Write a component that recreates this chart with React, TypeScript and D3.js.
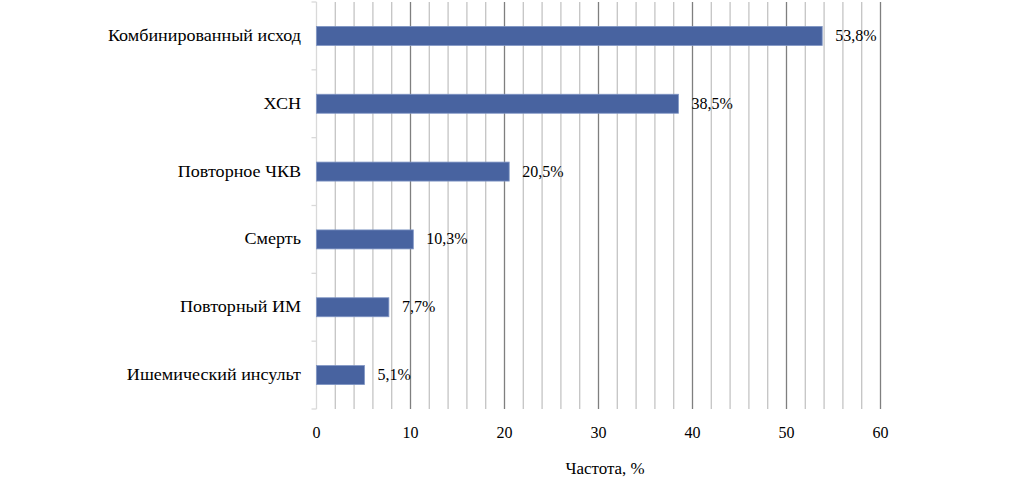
import React from "react";
import * as d3 from "d3";

const categories = [
  "Комбинированный исход",
  "ХСН",
  "Повторное ЧКВ",
  "Смерть",
  "Повторный ИМ",
  "Ишемический инсульт",
];
const values = [53.8, 38.5, 20.5, 10.3, 7.7, 5.1];
const valueLabels = ["53,8%", "38,5%", "20,5%", "10,3%", "7,7%", "5,1%"];
const majorTicks = [0, 10, 20, 30, 40, 50, 60];
const minorTicks = d3.range(0, 61, 2);
const axisTitle = "Частота, %";

export default function App() {
  const W = 1031, H = 483;
  const x0 = 316.5, x1 = 880.5, yTop = 2, yBot = 409;
  const x = d3.scaleLinear().domain([0, 60]).range([x0, x1]);
  const y = d3.scaleBand().domain(categories).range([yTop, yBot]).paddingInner(0.72).paddingOuter(0.36);
  const band = d3.scaleBand().domain(categories).range([yTop, yBot]);
  const font = "Liberation Serif";
  const fs = 16;
  return (
    <svg width={W} height={H} style={{ position: "absolute", left: 0, top: 0, background: "#fff" }}>
      {minorTicks.filter((t) => t % 10 !== 0).map((t) => (
        <line key={"m" + t} x1={x(t)} x2={x(t)} y1={yTop} y2={yBot} stroke="#c4c4c4" strokeWidth={1.3} />
      ))}
      {majorTicks.filter((t) => t !== 0).map((t) => (
        <line key={"M" + t} x1={x(t)} x2={x(t)} y1={yTop} y2={yBot} stroke="#7f7f7f" strokeWidth={1.3} />
      ))}
      <line x1={x0} x2={x0} y1={yTop} y2={yBot} stroke="#d9d9d9" strokeWidth={1.3} />
      {[...categories.map((c) => band(c) as number), yBot].map((v, i) => (
        <line key={"t" + i} x1={x0 - 5} x2={x0} y1={v} y2={v} stroke="#d9d9d9" strokeWidth={1.3} />
      ))}
      {categories.map((c, i) => {
        const cy = (y(c) as number) + y.bandwidth() / 2 + 5;
        return (
          <g key={c}>
            <rect x={x(0)} y={y(c)} width={x(values[i]) - x(0)} height={y.bandwidth()} fill="#4863a0" stroke="#7f95c4" strokeWidth={0.8} />
            <text x={x(values[i]) + 13} y={cy} fontFamily={font} fontSize={fs} fill="#000">
              {valueLabels[i]}
            </text>
            <text transform={`translate(301,${cy}) scale(1.13,1)`} textAnchor="end" fontFamily={font} fontSize={fs} fill="#000">
              {c}
            </text>
          </g>
        );
      })}
      {majorTicks.map((t) => (
        <text key={"l" + t} x={x(t)} y={438} textAnchor="middle" fontFamily={font} fontSize={fs} fill="#000">
          {t}
        </text>
      ))}
      <text transform="translate(605,474) scale(1.06,1)" textAnchor="middle" fontFamily={font} fontSize={fs} fill="#000">
        {axisTitle}
      </text>
    </svg>
  );
}
